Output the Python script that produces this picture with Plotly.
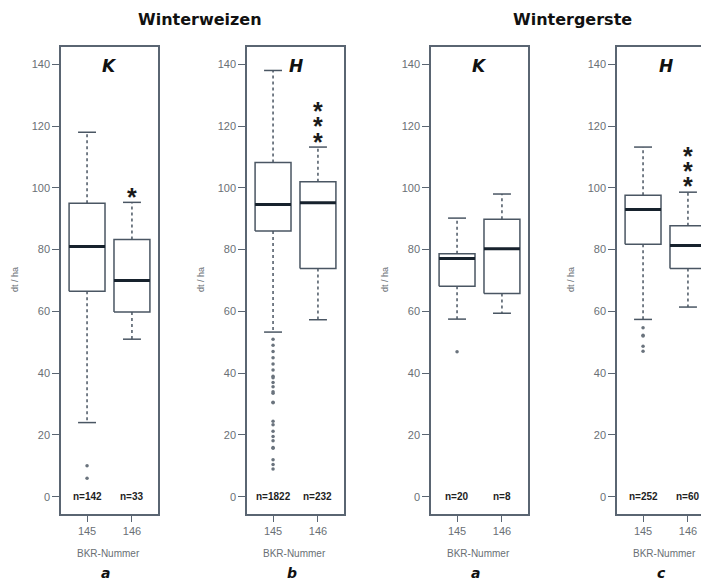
import plotly.graph_objects as go

# ---------------- data ----------------
bkr = ["145", "146"]
panel_names = ["K", "H", "K", "H"]
panel_letters = ["a", "b", "a", "c"]
crop_titles = ["Winterweizen", "Wintergerste"]
y_ticks = [0, 20, 40, 60, 80, 100, 120, 140]

# Winterweizen K
ww_k_q1 = [66.5, 59.8]
ww_k_med = [81.0, 70.0]
ww_k_q3 = [95.0, 83.3]
ww_k_lo = [24.0, 51.0]
ww_k_hi = [118.0, 95.3]
ww_k_out_145 = [10.0, 6.0]
ww_k_out_146 = []
ww_k_n = [142, 33]
ww_k_stars = [[], [98.5]]

# Winterweizen H
ww_h_q1 = [86.0, 73.9]
ww_h_med = [94.6, 95.2]
ww_h_q3 = [108.2, 102.0]
ww_h_lo = [53.3, 57.3]
ww_h_hi = [138.0, 113.2]
ww_h_out_145 = [51.0, 49.0, 47.0, 45.0, 43.0, 41.0, 39.0, 38.5, 37.0, 35.6, 34.0, 33.5,
                30.6, 30.4, 24.4, 23.3, 21.2, 19.5, 18.1, 15.9, 15.7, 12.0, 10.4, 9.0]
ww_h_out_146 = []
ww_h_n = [1822, 232]
ww_h_stars = [[], [116.6, 121.5, 126.4]]

# Wintergerste K
wg_k_q1 = [68.1, 65.8]
wg_k_med = [77.1, 80.3]
wg_k_q3 = [78.7, 89.8]
wg_k_lo = [57.5, 59.4]
wg_k_hi = [90.2, 98.0]
wg_k_out_145 = [46.9]
wg_k_out_146 = []
wg_k_n = [20, 8]
wg_k_stars = [[], []]

# Wintergerste H
wg_h_q1 = [81.7, 73.9]
wg_h_med = [93.0, 81.3]
wg_h_q3 = [97.6, 87.7]
wg_h_lo = [57.4, 61.4]
wg_h_hi = [113.2, 98.6]
wg_h_out_145 = [54.7, 52.3, 52.0, 48.7, 47.1]
wg_h_out_146 = []
wg_h_n = [252, 60]
wg_h_stars = [[], [102.2, 107.0, 111.9]]

panels = [
    (ww_k_q1, ww_k_med, ww_k_q3, ww_k_lo, ww_k_hi, [ww_k_out_145, ww_k_out_146], ww_k_n, ww_k_stars),
    (ww_h_q1, ww_h_med, ww_h_q3, ww_h_lo, ww_h_hi, [ww_h_out_145, ww_h_out_146], ww_h_n, ww_h_stars),
    (wg_k_q1, wg_k_med, wg_k_q3, wg_k_lo, wg_k_hi, [wg_k_out_145, wg_k_out_146], wg_k_n, wg_k_stars),
    (wg_h_q1, wg_h_med, wg_h_q3, wg_h_lo, wg_h_hi, [wg_h_out_145, wg_h_out_146], wg_h_n, wg_h_stars),
]

# ---------------- layout helpers ----------------
OFF = 8            # page body margin
VW, VH = 709, 580  # viewport
W, H = VW - OFF, VH - OFF

def px(x):  # screen px -> paper fraction
    return (x - OFF) / W
def py(y):
    return 1 - (y - OFF) / H

lefts = [61, 247, 431, 617]
pw = 97
xr = [0.42, 2.58]
ppu = pw / (xr[1] - xr[0])
yr = [-5.6, 145.6]
ydom = [py(514), py(47)]

LINE = "#5a6572"
BOXC = "#4a5663"
MED = "#17222d"
TXT = "#6a6f75"

fig = go.Figure()
annotations = []
layout = dict(
    width=W, height=H, margin=dict(l=0, r=0, t=0, b=0),
    paper_bgcolor="white", plot_bgcolor="white", showlegend=False,
)

def ann(x, y, text, size, family="Liberation Sans, Arial", color="#111", angle=0):
    annotations.append(dict(x=px(x), y=py(y), xref="paper", yref="paper", text=text,
                            xanchor="center", yanchor="middle", textangle=angle,
                            showarrow=False, font=dict(family=family, size=size, color=color)))

for i, (q1, med, q3, lo, hi, outs, ns, stars) in enumerate(panels):
    k = "" if i == 0 else str(i + 1)
    xa, ya = "x" + k, "y" + k
    left = lefts[i]
    right = min(left + pw, VW)
    rng = [xr[0], xr[0] + (right - left) / ppu]
    layout["xaxis" + k] = dict(
        domain=[px(left), min(px(right), 1.0)], range=rng, anchor=ya,
        tickvals=[1, 2], ticktext=bkr, ticks="outside", ticklen=6, tickcolor=LINE,
        showline=True, linecolor=LINE, linewidth=1.5, mirror=True,
        showgrid=False, zeroline=False, fixedrange=True,
        tickfont=dict(family="Liberation Sans, Arial", size=11, color=TXT),
    )
    layout["yaxis" + k] = dict(
        domain=ydom, range=yr, anchor=xa,
        tickvals=y_ticks, ticks="outside", ticklen=7, tickcolor=LINE,
        showline=True, linecolor=LINE, linewidth=1.5, mirror=(i < 3),
        showgrid=False, zeroline=False, fixedrange=True,
        tickfont=dict(family="Liberation Sans, Arial", size=11, color=TXT),
    )
    for j in range(2):
        p = j + 1
        # whiskers
        fig.add_trace(go.Scatter(x=[p, p], y=[q3[j], hi[j]], mode="lines", xaxis=xa, yaxis=ya,
                                 line=dict(color=BOXC, width=1.5, dash="3px,3px"), hoverinfo="skip"))
        fig.add_trace(go.Scatter(x=[p, p], y=[q1[j], lo[j]], mode="lines", xaxis=xa, yaxis=ya,
                                 line=dict(color=BOXC, width=1.5, dash="3px,3px"), hoverinfo="skip"))
        # caps
        for v in (hi[j], lo[j]):
            fig.add_trace(go.Scatter(x=[p - 0.2, p + 0.2], y=[v, v], mode="lines", xaxis=xa, yaxis=ya,
                                     line=dict(color=BOXC, width=1.5), hoverinfo="skip"))
        # box
        fig.add_trace(go.Scatter(x=[p - 0.4, p + 0.4, p + 0.4, p - 0.4, p - 0.4],
                                 y=[q1[j], q1[j], q3[j], q3[j], q1[j]],
                                 mode="lines", fill="toself", fillcolor="white",
                                 xaxis=xa, yaxis=ya, line=dict(color=BOXC, width=1.5), hoverinfo="skip"))
        # median
        fig.add_trace(go.Scatter(x=[p - 0.4, p + 0.4], y=[med[j], med[j]], mode="lines",
                                 xaxis=xa, yaxis=ya, line=dict(color=MED, width=3), hoverinfo="skip"))
        # outliers
        if outs[j]:
            fig.add_trace(go.Scatter(x=[p] * len(outs[j]), y=outs[j], mode="markers",
                                     xaxis=xa, yaxis=ya,
                                     marker=dict(size=3.5, color="#6a737d", symbol="circle"),
                                     hoverinfo="skip"))
        # n labels
        annotations.append(dict(x=p, y=0, xref=xa, yref=ya, text="<b>n=%d</b>" % ns[j],
                                xanchor="center", yanchor="middle", showarrow=False,
                                font=dict(family="Liberation Sans, Arial", size=10, color="#1e1e1e")))
        # stars
        for s in stars[j]:
            annotations.append(dict(x=p, y=s, xref=xa, yref=ya, text="<b>*</b>", yshift=-5,
                                    xanchor="center", yanchor="middle", showarrow=False,
                                    font=dict(family="Liberation Sans, Arial", size=25, color="#1a1a1a")))
    cx = left + pw / 2
    ann(cx, 66, "<b><i>%s</i></b>" % panel_names[i], 17, family="DejaVu Sans")
    ann(left - 46, 280, "dt / ha", 9, color=TXT, angle=-90)
    ann(cx - 1, 553, "BKR-Nummer", 10, color=TXT)
    ann(cx - 4, 573, "<b><i>%s</i></b>" % panel_letters[i], 14, family="DejaVu Sans")

# crop titles
ann(200, 20, "<b>%s</b>" % crop_titles[0], 16, family="DejaVu Sans")
ann(572, 20, "<b>%s</b>" % crop_titles[1], 16, family="DejaVu Sans")

layout["annotations"] = annotations
fig.update_layout(**layout)
fig.write_html("out.html")
